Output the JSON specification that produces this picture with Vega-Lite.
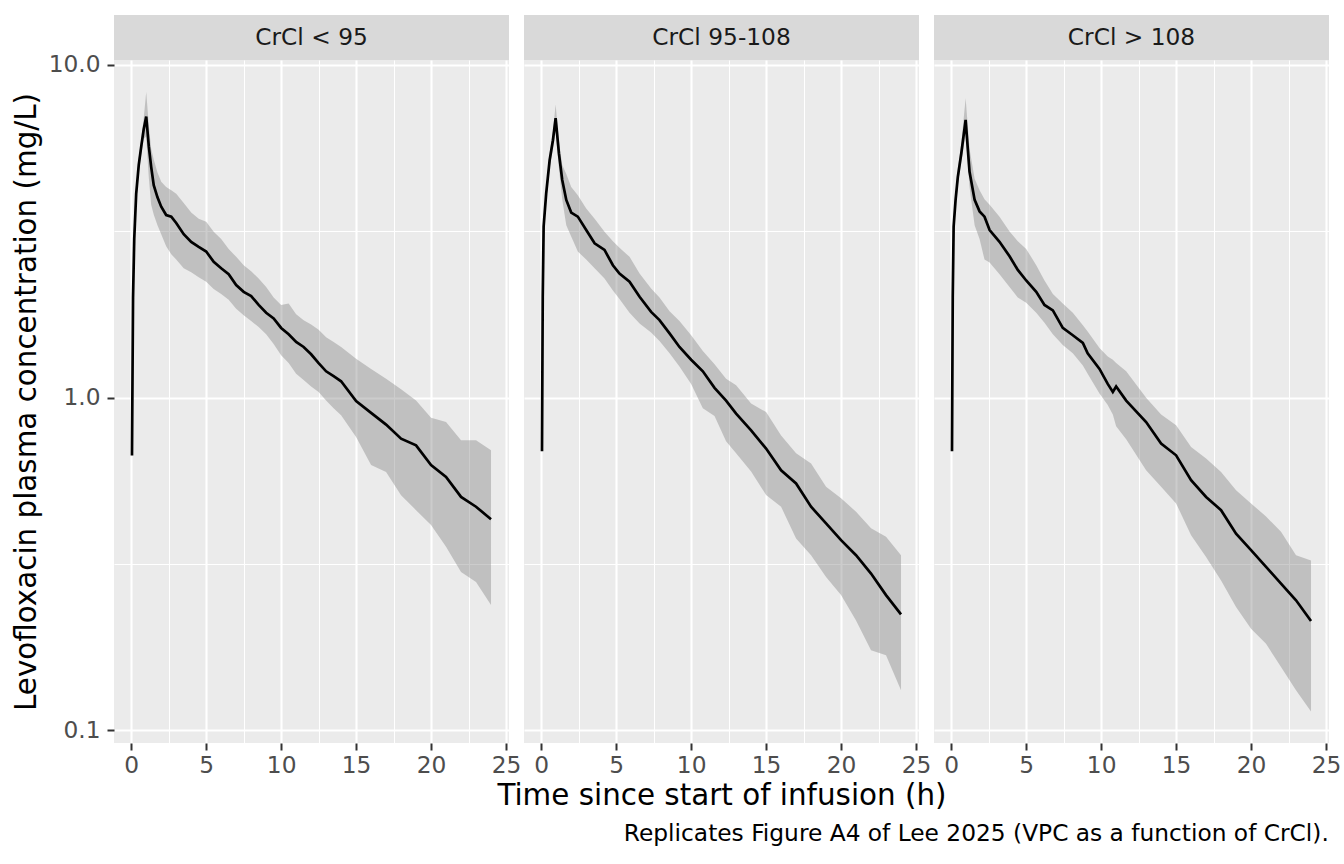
{
"$schema": "https://vega.github.io/schema/vega-lite/v6.json",
"padding": {"left": 11, "top": 15, "right": 5, "bottom": 5},
"config": {
  "font": "DejaVu Sans",
  "view": {"stroke": null},
  "title": {"font": "DejaVu Sans"},
  "axis": {"labelFont": "DejaVu Sans", "titleFont": "DejaVu Sans", "labelFlush": false, "labelOverlap": false, "labelBound": false, "minExtent": 0},
  "axisY": {"minExtent": 0},
  "axisX": {"minExtent": 0}
},
"title": {"text": "Replicates Figure A4 of Lee 2025 (VPC as a function of CrCl).", "orient": "bottom", "anchor": "end", "fontSize": 23.3, "fontWeight": "normal", "color": "#000000", "offset": 13, "dx": -12},
"datasets": {
"vpc": [
{"panel":"CrCl < 95","time":0.05,"med":0.67,"lo":0.66,"hi":0.68},
{"panel":"CrCl < 95","time":0.12,"med":2.0,"lo":1.9,"hi":2.1},
{"panel":"CrCl < 95","time":0.2,"med":3.0,"lo":2.85,"hi":3.15},
{"panel":"CrCl < 95","time":0.33,"med":4.1,"lo":3.9,"hi":4.3},
{"panel":"CrCl < 95","time":0.5,"med":5.0,"lo":4.75,"hi":5.25},
{"panel":"CrCl < 95","time":0.67,"med":5.7,"lo":5.4,"hi":6.0},
{"panel":"CrCl < 95","time":0.83,"med":6.4,"lo":6.0,"hi":6.9},
{"panel":"CrCl < 95","time":1.0,"med":7.0,"lo":6.1,"hi":8.3},
{"panel":"CrCl < 95","time":1.17,"med":5.7,"lo":4.6,"hi":6.6},
{"panel":"CrCl < 95","time":1.33,"med":4.94,"lo":3.8,"hi":5.6},
{"panel":"CrCl < 95","time":1.5,"med":4.35,"lo":3.55,"hi":5.2},
{"panel":"CrCl < 95","time":1.75,"med":4.0,"lo":3.3,"hi":4.75},
{"panel":"CrCl < 95","time":2.0,"med":3.75,"lo":3.1,"hi":4.46},
{"panel":"CrCl < 95","time":2.33,"med":3.54,"lo":2.85,"hi":4.3},
{"panel":"CrCl < 95","time":2.67,"med":3.5,"lo":2.7,"hi":4.2},
{"panel":"CrCl < 95","time":3.0,"med":3.35,"lo":2.6,"hi":4.1},
{"panel":"CrCl < 95","time":3.5,"med":3.1,"lo":2.45,"hi":3.85},
{"panel":"CrCl < 95","time":4.0,"med":2.94,"lo":2.38,"hi":3.6},
{"panel":"CrCl < 95","time":4.5,"med":2.84,"lo":2.3,"hi":3.45},
{"panel":"CrCl < 95","time":5.0,"med":2.75,"lo":2.23,"hi":3.38},
{"panel":"CrCl < 95","time":5.5,"med":2.56,"lo":2.12,"hi":3.15},
{"panel":"CrCl < 95","time":6.0,"med":2.45,"lo":2.05,"hi":3.0},
{"panel":"CrCl < 95","time":6.5,"med":2.35,"lo":1.97,"hi":2.8},
{"panel":"CrCl < 95","time":7.0,"med":2.18,"lo":1.85,"hi":2.65},
{"panel":"CrCl < 95","time":7.5,"med":2.08,"lo":1.77,"hi":2.5},
{"panel":"CrCl < 95","time":8.0,"med":2.02,"lo":1.7,"hi":2.4},
{"panel":"CrCl < 95","time":8.5,"med":1.9,"lo":1.63,"hi":2.28},
{"panel":"CrCl < 95","time":9.0,"med":1.8,"lo":1.55,"hi":2.15},
{"panel":"CrCl < 95","time":9.5,"med":1.73,"lo":1.45,"hi":2.0},
{"panel":"CrCl < 95","time":10.0,"med":1.62,"lo":1.34,"hi":1.9},
{"panel":"CrCl < 95","time":10.5,"med":1.55,"lo":1.27,"hi":1.92},
{"panel":"CrCl < 95","time":11.0,"med":1.47,"lo":1.18,"hi":1.78},
{"panel":"CrCl < 95","time":11.5,"med":1.42,"lo":1.13,"hi":1.71},
{"panel":"CrCl < 95","time":12.0,"med":1.35,"lo":1.08,"hi":1.66},
{"panel":"CrCl < 95","time":12.5,"med":1.27,"lo":1.04,"hi":1.6},
{"panel":"CrCl < 95","time":13.0,"med":1.2,"lo":0.98,"hi":1.52},
{"panel":"CrCl < 95","time":13.5,"med":1.16,"lo":0.93,"hi":1.47},
{"panel":"CrCl < 95","time":14.0,"med":1.12,"lo":0.885,"hi":1.42},
{"panel":"CrCl < 95","time":15.0,"med":0.977,"lo":0.762,"hi":1.31},
{"panel":"CrCl < 95","time":16.0,"med":0.9,"lo":0.627,"hi":1.22},
{"panel":"CrCl < 95","time":17.0,"med":0.83,"lo":0.598,"hi":1.14},
{"panel":"CrCl < 95","time":18.0,"med":0.753,"lo":0.509,"hi":1.06},
{"panel":"CrCl < 95","time":19.0,"med":0.719,"lo":0.459,"hi":0.98},
{"panel":"CrCl < 95","time":20.0,"med":0.627,"lo":0.414,"hi":0.87},
{"panel":"CrCl < 95","time":21.0,"med":0.578,"lo":0.356,"hi":0.845},
{"panel":"CrCl < 95","time":22.0,"med":0.503,"lo":0.299,"hi":0.745},
{"panel":"CrCl < 95","time":23.0,"med":0.47,"lo":0.279,"hi":0.745},
{"panel":"CrCl < 95","time":24.0,"med":0.431,"lo":0.238,"hi":0.695},
{"panel":"CrCl 95-108","time":0.05,"med":0.69,"lo":0.68,"hi":0.7},
{"panel":"CrCl 95-108","time":0.1,"med":2.0,"lo":1.9,"hi":2.1},
{"panel":"CrCl 95-108","time":0.16,"med":3.27,"lo":3.1,"hi":3.45},
{"panel":"CrCl 95-108","time":0.33,"med":4.11,"lo":3.9,"hi":4.3},
{"panel":"CrCl 95-108","time":0.56,"med":5.17,"lo":4.9,"hi":5.45},
{"panel":"CrCl 95-108","time":0.78,"med":5.94,"lo":5.6,"hi":6.3},
{"panel":"CrCl 95-108","time":0.96,"med":6.92,"lo":6.3,"hi":7.6},
{"panel":"CrCl 95-108","time":1.18,"med":5.42,"lo":4.9,"hi":5.9},
{"panel":"CrCl 95-108","time":1.4,"med":4.51,"lo":3.95,"hi":5.0},
{"panel":"CrCl 95-108","time":1.67,"med":3.93,"lo":3.3,"hi":4.7},
{"panel":"CrCl 95-108","time":2.0,"med":3.6,"lo":3.05,"hi":4.3},
{"panel":"CrCl 95-108","time":2.44,"med":3.5,"lo":2.75,"hi":4.06},
{"panel":"CrCl 95-108","time":3.0,"med":3.19,"lo":2.6,"hi":3.7},
{"panel":"CrCl 95-108","time":3.56,"med":2.91,"lo":2.45,"hi":3.45},
{"panel":"CrCl 95-108","time":4.22,"med":2.78,"lo":2.28,"hi":3.15},
{"panel":"CrCl 95-108","time":4.78,"med":2.5,"lo":2.1,"hi":2.95},
{"panel":"CrCl 95-108","time":5.22,"med":2.36,"lo":1.98,"hi":2.82},
{"panel":"CrCl 95-108","time":5.89,"med":2.23,"lo":1.8,"hi":2.65},
{"panel":"CrCl 95-108","time":6.56,"med":2.01,"lo":1.67,"hi":2.36},
{"panel":"CrCl 95-108","time":7.33,"med":1.81,"lo":1.57,"hi":2.13},
{"panel":"CrCl 95-108","time":7.89,"med":1.71,"lo":1.48,"hi":2.0},
{"panel":"CrCl 95-108","time":8.56,"med":1.56,"lo":1.36,"hi":1.82},
{"panel":"CrCl 95-108","time":9.22,"med":1.42,"lo":1.24,"hi":1.7},
{"panel":"CrCl 95-108","time":10.0,"med":1.3,"lo":1.1,"hi":1.54},
{"panel":"CrCl 95-108","time":10.78,"med":1.2,"lo":0.93,"hi":1.38},
{"panel":"CrCl 95-108","time":11.56,"med":1.07,"lo":0.88,"hi":1.26},
{"panel":"CrCl 95-108","time":12.33,"med":0.98,"lo":0.74,"hi":1.14},
{"panel":"CrCl 95-108","time":13.0,"med":0.895,"lo":0.68,"hi":1.09},
{"panel":"CrCl 95-108","time":14.0,"med":0.797,"lo":0.6,"hi":0.96},
{"panel":"CrCl 95-108","time":15.0,"med":0.703,"lo":0.51,"hi":0.905},
{"panel":"CrCl 95-108","time":16.0,"med":0.605,"lo":0.47,"hi":0.77},
{"panel":"CrCl 95-108","time":17.0,"med":0.552,"lo":0.377,"hi":0.68},
{"panel":"CrCl 95-108","time":18.0,"med":0.47,"lo":0.336,"hi":0.634},
{"panel":"CrCl 95-108","time":19.0,"med":0.419,"lo":0.289,"hi":0.54},
{"panel":"CrCl 95-108","time":20.0,"med":0.373,"lo":0.255,"hi":0.498},
{"panel":"CrCl 95-108","time":21.0,"med":0.336,"lo":0.214,"hi":0.454},
{"panel":"CrCl 95-108","time":22.0,"med":0.296,"lo":0.174,"hi":0.405},
{"panel":"CrCl 95-108","time":23.0,"med":0.255,"lo":0.168,"hi":0.382},
{"panel":"CrCl 95-108","time":24.0,"med":0.223,"lo":0.132,"hi":0.336},
{"panel":"CrCl > 108","time":0.05,"med":0.69,"lo":0.68,"hi":0.7},
{"panel":"CrCl > 108","time":0.1,"med":2.0,"lo":1.9,"hi":2.1},
{"panel":"CrCl > 108","time":0.16,"med":3.27,"lo":3.1,"hi":3.45},
{"panel":"CrCl > 108","time":0.29,"med":3.93,"lo":3.75,"hi":4.15},
{"panel":"CrCl > 108","time":0.44,"med":4.61,"lo":4.35,"hi":4.9},
{"panel":"CrCl > 108","time":0.67,"med":5.42,"lo":5.1,"hi":5.8},
{"panel":"CrCl > 108","time":0.96,"med":6.84,"lo":6.2,"hi":7.94},
{"panel":"CrCl > 108","time":1.22,"med":4.78,"lo":4.3,"hi":5.6},
{"panel":"CrCl > 108","time":1.56,"med":3.93,"lo":3.3,"hi":4.55},
{"panel":"CrCl > 108","time":1.89,"med":3.63,"lo":3.0,"hi":4.2},
{"panel":"CrCl > 108","time":2.22,"med":3.5,"lo":2.6,"hi":3.95},
{"panel":"CrCl > 108","time":2.56,"med":3.19,"lo":2.55,"hi":3.8},
{"panel":"CrCl > 108","time":3.22,"med":2.94,"lo":2.35,"hi":3.5},
{"panel":"CrCl > 108","time":3.89,"med":2.66,"lo":2.15,"hi":3.16},
{"panel":"CrCl > 108","time":4.44,"med":2.42,"lo":2.0,"hi":2.95},
{"panel":"CrCl > 108","time":5.0,"med":2.25,"lo":1.93,"hi":2.8},
{"panel":"CrCl > 108","time":5.67,"med":2.08,"lo":1.8,"hi":2.5},
{"panel":"CrCl > 108","time":6.22,"med":1.9,"lo":1.68,"hi":2.25},
{"panel":"CrCl > 108","time":6.78,"med":1.83,"lo":1.55,"hi":2.05},
{"panel":"CrCl > 108","time":7.44,"med":1.62,"lo":1.44,"hi":1.92},
{"panel":"CrCl > 108","time":8.11,"med":1.54,"lo":1.36,"hi":1.8},
{"panel":"CrCl > 108","time":8.78,"med":1.46,"lo":1.25,"hi":1.65},
{"panel":"CrCl > 108","time":9.1,"med":1.36,"lo":1.18,"hi":1.58},
{"panel":"CrCl > 108","time":9.89,"med":1.22,"lo":1.03,"hi":1.41},
{"panel":"CrCl > 108","time":10.44,"med":1.1,"lo":0.95,"hi":1.33},
{"panel":"CrCl > 108","time":10.78,"med":1.04,"lo":0.89,"hi":1.3},
{"panel":"CrCl > 108","time":11.0,"med":1.08,"lo":0.82,"hi":1.27},
{"panel":"CrCl > 108","time":11.67,"med":0.98,"lo":0.75,"hi":1.2},
{"panel":"CrCl > 108","time":13.0,"med":0.845,"lo":0.605,"hi":1.0},
{"panel":"CrCl > 108","time":14.0,"med":0.728,"lo":0.54,"hi":0.89},
{"panel":"CrCl > 108","time":15.0,"med":0.671,"lo":0.481,"hi":0.826},
{"panel":"CrCl > 108","time":16.0,"med":0.565,"lo":0.386,"hi":0.711},
{"panel":"CrCl > 108","time":17.0,"med":0.503,"lo":0.332,"hi":0.656},
{"panel":"CrCl > 108","time":18.0,"med":0.459,"lo":0.282,"hi":0.598},
{"panel":"CrCl > 108","time":19.0,"med":0.39,"lo":0.235,"hi":0.527},
{"panel":"CrCl > 108","time":20.0,"med":0.348,"lo":0.202,"hi":0.481},
{"panel":"CrCl > 108","time":21.0,"med":0.31,"lo":0.182,"hi":0.439},
{"panel":"CrCl > 108","time":22.0,"med":0.276,"lo":0.155,"hi":0.395},
{"panel":"CrCl > 108","time":23.0,"med":0.246,"lo":0.132,"hi":0.336},
{"panel":"CrCl > 108","time":24.0,"med":0.213,"lo":0.114,"hi":0.324}
]
},
"spacing": -9,
"vconcat": [
{
 "spacing": 15,
 "bounds": "flush",
 "hconcat": [
  {"data": {"values": [{"panel": "CrCl < 95"}]}, "width": 395, "height": 45, "view": {"fill": "#D9D9D9", "stroke": null},
   "mark": {"type": "text", "fontSize": 23.3, "color": "#1A1A1A", "font": "DejaVu Sans"}, "encoding": {"text": {"field": "panel"}}},
  {"data": {"values": [{"panel": "CrCl 95-108"}]}, "width": 395, "height": 45, "view": {"fill": "#D9D9D9", "stroke": null},
   "mark": {"type": "text", "fontSize": 23.3, "color": "#1A1A1A", "font": "DejaVu Sans"}, "encoding": {"text": {"field": "panel"}}},
  {"data": {"values": [{"panel": "CrCl > 108"}]}, "width": 395, "height": 45, "view": {"fill": "#D9D9D9", "stroke": null},
   "mark": {"type": "text", "fontSize": 23.3, "color": "#1A1A1A", "font": "DejaVu Sans"}, "encoding": {"text": {"field": "panel"}}}
 ]
},
{
 "spacing": 15,
 "bounds": "flush",
 "hconcat": [
  {"data": {"name": "vpc"}, "transform": [{"filter": {"field": "panel", "equal": "CrCl < 95"}}],
   "width": 395, "height": 683, "view": {"fill": "#EBEBEB", "stroke": null},
   "layer": [
    {"mark": {"type": "area", "color": "#7F7F7F", "opacity": 0.4},
     "encoding": {
      "x": {"field": "time", "type": "quantitative", "scale": {"domain": [-1.15, 25.2], "nice": false, "zero": false},
            "axis": {"orient": "bottom", "values": [0,5,10,15,20,25], "format": "d", "grid": true, "gridColor": "#FFFFFF", "gridWidth": 2.1, "domain": false, "ticks": true, "tickSize": 7, "tickWidth": 2, "tickColor": "#333333", "labelFontSize": 23.3, "labelColor": "#4D4D4D", "labelPadding": 4, "title": null}},
      "y": {"field": "lo", "type": "quantitative", "scale": {"type": "log", "domain": [0.0916, 10.35], "nice": false, "zero": false},
            "axis": {"orient": "left", "values": [0.1, 1, 10], "format": ".1f", "grid": true, "gridColor": "#FFFFFF", "gridWidth": 2.1, "domain": false, "ticks": true, "tickSize": 7, "tickWidth": 2, "tickColor": "#333333", "labelFontSize": 23.3, "labelColor": "#4D4D4D", "labelPadding": 7, "title": "Levofloxacin plasma concentration (mg/L)", "titleFontSize": 29.4, "titleFontWeight": "normal", "titleColor": "#000000", "titlePadding": 7}},
      "y2": {"field": "hi"}
     }},
    {"mark": {"type": "line", "color": "#000000", "strokeWidth": 2.7},
     "encoding": {
      "x": {"field": "time", "type": "quantitative", "scale": {"domain": [-1.15, 25.2], "nice": false, "zero": false},
            "axis": {"orient": "top", "values": [2.5,7.5,12.5,17.5,22.5], "grid": true, "gridColor": "#FFFFFF", "gridWidth": 1.05, "domain": false, "ticks": false, "labels": false, "title": null}},
      "y": {"field": "med", "type": "quantitative", "scale": {"type": "log", "domain": [0.0916, 10.35], "nice": false, "zero": false},
            "axis": {"orient": "right", "values": [0.3162, 3.162], "grid": true, "gridColor": "#FFFFFF", "gridWidth": 1.05, "domain": false, "ticks": false, "labels": false, "title": null}}
     }}
   ],
   "resolve": {"axis": {"x": "independent", "y": "independent"}}
  },
  {"data": {"name": "vpc"}, "transform": [{"filter": {"field": "panel", "equal": "CrCl 95-108"}}],
   "width": 395, "height": 683, "view": {"fill": "#EBEBEB", "stroke": null},
   "layer": [
    {"mark": {"type": "area", "color": "#7F7F7F", "opacity": 0.4},
     "encoding": {
      "x": {"field": "time", "type": "quantitative", "scale": {"domain": [-1.15, 25.2], "nice": false, "zero": false},
            "axis": {"orient": "bottom", "values": [0,5,10,15,20,25], "format": "d", "grid": true, "gridColor": "#FFFFFF", "gridWidth": 2.1, "domain": false, "ticks": true, "tickSize": 7, "tickWidth": 2, "tickColor": "#333333", "labelFontSize": 23.3, "labelColor": "#4D4D4D", "labelPadding": 4, "title": "Time since start of infusion (h)", "titleFontSize": 29.4, "titleFontWeight": "normal", "titleColor": "#000000", "titlePadding": 5}},
      "y": {"field": "lo", "type": "quantitative", "scale": {"type": "log", "domain": [0.0916, 10.35], "nice": false, "zero": false},
            "axis": {"orient": "left", "values": [0.1, 1, 10], "grid": true, "gridColor": "#FFFFFF", "gridWidth": 2.1, "domain": false, "ticks": false, "labels": false, "title": null}},
      "y2": {"field": "hi"}
     }},
    {"mark": {"type": "line", "color": "#000000", "strokeWidth": 2.7},
     "encoding": {
      "x": {"field": "time", "type": "quantitative", "scale": {"domain": [-1.15, 25.2], "nice": false, "zero": false},
            "axis": {"orient": "top", "values": [2.5,7.5,12.5,17.5,22.5], "grid": true, "gridColor": "#FFFFFF", "gridWidth": 1.05, "domain": false, "ticks": false, "labels": false, "title": null}},
      "y": {"field": "med", "type": "quantitative", "scale": {"type": "log", "domain": [0.0916, 10.35], "nice": false, "zero": false},
            "axis": {"orient": "right", "values": [0.3162, 3.162], "grid": true, "gridColor": "#FFFFFF", "gridWidth": 1.05, "domain": false, "ticks": false, "labels": false, "title": null}}
     }}
   ],
   "resolve": {"axis": {"x": "independent", "y": "independent"}}
  },
  {"data": {"name": "vpc"}, "transform": [{"filter": {"field": "panel", "equal": "CrCl > 108"}}],
   "width": 395, "height": 683, "view": {"fill": "#EBEBEB", "stroke": null},
   "layer": [
    {"mark": {"type": "area", "color": "#7F7F7F", "opacity": 0.4},
     "encoding": {
      "x": {"field": "time", "type": "quantitative", "scale": {"domain": [-1.15, 25.2], "nice": false, "zero": false},
            "axis": {"orient": "bottom", "values": [0,5,10,15,20,25], "format": "d", "grid": true, "gridColor": "#FFFFFF", "gridWidth": 2.1, "domain": false, "ticks": true, "tickSize": 7, "tickWidth": 2, "tickColor": "#333333", "labelFontSize": 23.3, "labelColor": "#4D4D4D", "labelPadding": 4, "title": null}},
      "y": {"field": "lo", "type": "quantitative", "scale": {"type": "log", "domain": [0.0916, 10.35], "nice": false, "zero": false},
            "axis": {"orient": "left", "values": [0.1, 1, 10], "grid": true, "gridColor": "#FFFFFF", "gridWidth": 2.1, "domain": false, "ticks": false, "labels": false, "title": null}},
      "y2": {"field": "hi"}
     }},
    {"mark": {"type": "line", "color": "#000000", "strokeWidth": 2.7},
     "encoding": {
      "x": {"field": "time", "type": "quantitative", "scale": {"domain": [-1.15, 25.2], "nice": false, "zero": false},
            "axis": {"orient": "top", "values": [2.5,7.5,12.5,17.5,22.5], "grid": true, "gridColor": "#FFFFFF", "gridWidth": 1.05, "domain": false, "ticks": false, "labels": false, "title": null}},
      "y": {"field": "med", "type": "quantitative", "scale": {"type": "log", "domain": [0.0916, 10.35], "nice": false, "zero": false},
            "axis": {"orient": "right", "values": [0.3162, 3.162], "grid": true, "gridColor": "#FFFFFF", "gridWidth": 1.05, "domain": false, "ticks": false, "labels": false, "title": null}}
     }}
   ],
   "resolve": {"axis": {"x": "independent", "y": "independent"}}
  }
 ]
}
]
}
